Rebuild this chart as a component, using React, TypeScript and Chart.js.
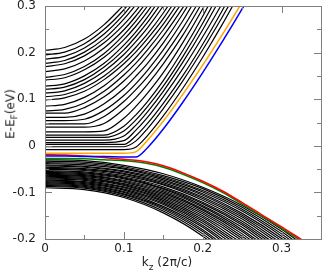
import React, { useEffect, useRef } from "react";
import { Chart, registerables } from "chart.js";

Chart.register(...registerables);

// k grids (units of 2π/c)
const kGridC = [0, 0.025, 0.05, 0.075, 0.1, 0.115, 0.13, 0.15, 0.175, 0.2, 0.225, 0.25, 0.275, 0.3, 0.325, 0.35];
const kGridV = [0, 0.05, 0.1, 0.15, 0.2, 0.25, 0.3, 0.35];

// black conduction subbands (eV), sampled on kGridC
const conductionBands: number[][] = [
  [0.205, 0.211, 0.229, 0.26, 0.302],
  [0.195, 0.201, 0.219, 0.25, 0.292, 0.323],
  [0.186, 0.192, 0.21, 0.24, 0.282, 0.313],
  [0.177, 0.183, 0.201, 0.23, 0.272, 0.302],
  [0.17, 0.176, 0.193, 0.221, 0.26, 0.289, 0.323],
  [0.159, 0.165, 0.182, 0.21, 0.249, 0.278, 0.311],
  [0.147, 0.153, 0.17, 0.198, 0.238, 0.267, 0.3, 0.351],
  [0.141, 0.146, 0.163, 0.19, 0.228, 0.256, 0.288, 0.337],
  [0.128, 0.133, 0.15, 0.177, 0.216, 0.244, 0.276, 0.326],
  [0.121, 0.126, 0.142, 0.169, 0.206, 0.234, 0.265, 0.312],
  [0.113, 0.118, 0.134, 0.16, 0.196, 0.223, 0.253, 0.3, 0.367],
  [0.105, 0.11, 0.125, 0.15, 0.185, 0.211, 0.24, 0.285, 0.35],
  [0.098, 0.103, 0.117, 0.142, 0.176, 0.201, 0.23, 0.273, 0.337],
  [0.085, 0.089, 0.104, 0.129, 0.164, 0.189, 0.218, 0.261, 0.323],
  [0.075, 0.078, 0.092, 0.117, 0.152, 0.177, 0.206, 0.249, 0.31],
  [0.07, 0.07, 0.082, 0.105, 0.139, 0.164, 0.193, 0.236, 0.297, 0.368],
  [0.061, 0.061, 0.068, 0.09, 0.123, 0.149, 0.177, 0.221, 0.284, 0.355],
  [0.054, 0.054, 0.057, 0.076, 0.108, 0.133, 0.162, 0.206, 0.269, 0.341],
  [0.047, 0.047, 0.047, 0.063, 0.095, 0.12, 0.148, 0.191, 0.253, 0.323],
  [0.04, 0.04, 0.04, 0.048, 0.079, 0.103, 0.132, 0.176, 0.238, 0.309],
  [0.03, 0.03, 0.03, 0.032, 0.059, 0.084, 0.113, 0.157, 0.222, 0.294, 0.374],
  [0.023, 0.023, 0.023, 0.023, 0.042, 0.066, 0.095, 0.14, 0.205, 0.278, 0.359],
  [0.018, 0.018, 0.018, 0.018, 0.032, 0.055, 0.084, 0.128, 0.192, 0.263, 0.341],
  [0.012, 0.012, 0.012, 0.012, 0.021, 0.044, 0.073, 0.117, 0.18, 0.249, 0.325],
  [0.007, 0.007, 0.007, 0.007, 0.011, 0.033, 0.061, 0.105, 0.166, 0.234, 0.306],
  [0.003, 0.003, 0.003, 0.003, 0.003, 0.021, 0.048, 0.091, 0.151, 0.218, 0.291, 0.368],
  [-0.002, -0.002, -0.002, -0.002, -0.002, 0.01, 0.037, 0.08, 0.14, 0.206, 0.277, 0.351],
  [-0.008, -0.008, -0.008, -0.008, -0.008, -0.003, 0.022, 0.064, 0.124, 0.19, 0.261, 0.337],
];

// black valence subbands (eV), sampled on kGridV
const valenceBands: number[][] = [
  [-0.03, -0.032, -0.042, -0.06, -0.089, -0.128, -0.179, -0.242],
  [-0.033, -0.035, -0.045, -0.064, -0.092, -0.132, -0.184, -0.248],
  [-0.036, -0.038, -0.048, -0.067, -0.096, -0.136, -0.189, -0.253],
  [-0.038, -0.041, -0.05, -0.07, -0.099, -0.14, -0.194, -0.26],
  [-0.041, -0.044, -0.054, -0.073, -0.103, -0.145, -0.199, -0.266],
  [-0.043, -0.046, -0.056, -0.076, -0.106, -0.149, -0.204, -0.272],
  [-0.046, -0.049, -0.059, -0.079, -0.11, -0.153, -0.209],
  [-0.048, -0.051, -0.061, -0.082, -0.113, -0.157, -0.214],
  [-0.05, -0.053, -0.064, -0.084, -0.117, -0.162, -0.22],
  [-0.053, -0.056, -0.067, -0.088, -0.121, -0.166, -0.225],
  [-0.055, -0.058, -0.069, -0.091, -0.124, -0.17, -0.231],
  [-0.057, -0.06, -0.071, -0.093, -0.128, -0.175, -0.236],
  [-0.059, -0.062, -0.074, -0.096, -0.131, -0.18, -0.242],
  [-0.061, -0.064, -0.076, -0.099, -0.135, -0.184, -0.248],
  [-0.063, -0.066, -0.078, -0.102, -0.138, -0.189, -0.255],
  [-0.065, -0.068, -0.081, -0.105, -0.142, -0.194, -0.261],
  [-0.067, -0.07, -0.083, -0.108, -0.146, -0.199, -0.267],
  [-0.069, -0.072, -0.085, -0.111, -0.15, -0.204, -0.274],
  [-0.071, -0.074, -0.088, -0.114, -0.154, -0.209],
  [-0.073, -0.077, -0.09, -0.117, -0.158, -0.215],
  [-0.075, -0.079, -0.093, -0.12, -0.162, -0.22],
  [-0.077, -0.081, -0.095, -0.123, -0.166, -0.226],
  [-0.079, -0.083, -0.098, -0.126, -0.171, -0.232],
  [-0.081, -0.085, -0.1, -0.13, -0.175, -0.238],
  [-0.083, -0.087, -0.103, -0.133, -0.18, -0.245],
  [-0.085, -0.089, -0.105, -0.136, -0.184, -0.251],
  [-0.087, -0.091, -0.108, -0.14, -0.189, -0.258],
  [-0.09, -0.094, -0.111, -0.144, -0.194, -0.264],
];

// highlighted bands (eV), sampled on kGridC
const orangeBand = [-0.016, -0.016, -0.016, -0.016, -0.016, -0.013, 0.012, 0.053, 0.111, 0.173, 0.239, 0.308];
const blueBand = [-0.022, -0.022, -0.023, -0.023, -0.024, -0.024, -0.004, 0.036, 0.094, 0.157, 0.224, 0.294, 0.367];
const redBand = [-0.019, -0.02, -0.022, -0.025, -0.029, -0.031, -0.035, -0.043, -0.058, -0.076, -0.097, -0.122, -0.148, -0.174, -0.201, -0.228];
const greenBand = [-0.027, -0.027, -0.028, -0.03, -0.032, -0.034, -0.038, -0.046, -0.061, -0.079, -0.1, -0.125, -0.151, -0.177, -0.204];

const xTicks = [0, 0.1, 0.2, 0.3];
const xMinorTicks = [0.05, 0.15, 0.25];
const yTicks = [-0.2, -0.1, 0, 0.1, 0.2, 0.3];
const yMinorTicks = [-0.15, -0.05, 0.05, 0.15, 0.25];

const FONT = "'DejaVu Sans', sans-serif";
const AXIS_COLOR = "#808080";
const TEXT_COLOR = "#222";

function toPoints(ks: number[], es: number[]) {
  return es.map((e, i) => ({ x: ks[i], y: e }));
}

function fmt(v: number) {
  return String(Number(v.toFixed(2)));
}

const framePlugin = {
  id: "frameTicks",
  afterDatasetsDraw(chart: any) {
    const { ctx, chartArea } = chart;
    const { left, right, top, bottom } = chartArea;
    const xs = chart.scales.x;
    const ys = chart.scales.y;
    ctx.save();
    ctx.strokeStyle = AXIS_COLOR;
    ctx.lineWidth = 1;
    const major = 7;
    const minor = 4;
    ctx.beginPath();
    const vx = (v: number, len: number) => {
      const px = Math.round(xs.getPixelForValue(v)) + 0.5;
      ctx.moveTo(px, bottom);
      ctx.lineTo(px, bottom - len);
      ctx.moveTo(px, top);
      ctx.lineTo(px, top + len);
    };
    const vy = (v: number, len: number) => {
      const py = Math.round(ys.getPixelForValue(v)) + 0.5;
      ctx.moveTo(left, py);
      ctx.lineTo(left + len, py);
      ctx.moveTo(right, py);
      ctx.lineTo(right - len, py);
    };
    xTicks.forEach((v) => vx(v, major));
    xMinorTicks.forEach((v) => vx(v, minor));
    yTicks.forEach((v) => vy(v, major));
    yMinorTicks.forEach((v) => vy(v, minor));
    ctx.stroke();
    ctx.strokeRect(Math.round(left) + 0.5, Math.round(top) + 0.5, Math.round(right - left), Math.round(bottom - top));
    ctx.restore();
  },
};

export default function App() {
  const canvasRef = useRef<HTMLCanvasElement | null>(null);

  useEffect(() => {
    if (!canvasRef.current) return;
    const datasets: any[] = [];
    const colored: [number[], string][] = [
      [orangeBand, "#FFA500"],
      [blueBand, "#0000FF"],
      [redBand, "#FF0000"],
      [greenBand, "#008000"],
    ];
    colored.forEach(([band, color]) => {
      datasets.push({
        data: toPoints(kGridC, band),
        borderColor: color,
        borderWidth: 1.5,
        pointRadius: 0,
        cubicInterpolationMode: "monotone",
        fill: false,
      });
    });
    conductionBands.forEach((band) => {
      datasets.push({
        data: toPoints(kGridC, band),
        borderColor: "#000",
        borderWidth: 1.2,
        pointRadius: 0,
        cubicInterpolationMode: "monotone",
        fill: false,
      });
    });
    valenceBands.forEach((band) => {
      datasets.push({
        data: toPoints(kGridV, band),
        borderColor: "#000",
        borderWidth: 1.2,
        pointRadius: 0,
        cubicInterpolationMode: "monotone",
        fill: false,
      });
    });

    const chart = new Chart(canvasRef.current, {
      type: "line",
      data: { datasets },
      options: {
        responsive: false,
        animation: false,
        events: [],
        layout: { padding: { left: 0, top: 6, right: 12, bottom: 0 } },
        plugins: { legend: { display: false }, tooltip: { enabled: false } },
        scales: {
          x: {
            type: "linear",
            min: 0,
            max: 0.35,
            grid: { display: false, drawTicks: false },
            border: { display: false },
            afterFit: (s: any) => {
              s.height = 37;
              s.paddingLeft = 0;
              s.paddingRight = 0;
            },
            afterBuildTicks: (s: any) => {
              s.ticks = xTicks.map((v) => ({ value: v }));
            },
            ticks: {
              padding: 3,
              color: TEXT_COLOR,
              font: { family: FONT, size: 12 },
              callback: (v: any) => fmt(Number(v)),
              maxRotation: 0,
            },
          },
          y: {
            type: "linear",
            min: -0.2,
            max: 0.3,
            grid: { display: false, drawTicks: false },
            border: { display: false },
            afterFit: (s: any) => {
              s.width = 45;
              s.paddingTop = 0;
              s.paddingBottom = 0;
            },
            afterBuildTicks: (s: any) => {
              s.ticks = yTicks.map((v) => ({ value: v }));
            },
            ticks: {
              padding: 9,
              color: TEXT_COLOR,
              font: { family: FONT, size: 12 },
              callback: (v: any) => fmt(Number(v)),
            },
          },
        },
      },
      plugins: [framePlugin],
    });
    return () => chart.destroy();
  }, []);

  const textStyle: React.CSSProperties = {
    position: "absolute",
    fontFamily: FONT,
    fontSize: 12,
    color: TEXT_COLOR,
    whiteSpace: "nowrap",
    lineHeight: 1,
  };

  return (
    <div style={{ position: "fixed", left: 0, top: 0, width: 333, height: 276, background: "#fff" }}>
      <canvas ref={canvasRef} width={333} height={276} style={{ display: "block" }} />
      <div
        style={{
          ...textStyle,
          left: 12,
          top: 114,
          transform: "translate(-50%, -50%) rotate(-90deg)",
        }}
      >
        E-E<sub style={{ fontSize: 9 }}>F</sub>(eV)
      </div>
      <div
        style={{
          ...textStyle,
          left: 167,
          top: 264,
          transform: "translate(-50%, -50%)",
        }}
      >
        k<sub style={{ fontSize: 9 }}>z</sub> (2π/c)
      </div>
    </div>
  );
}
